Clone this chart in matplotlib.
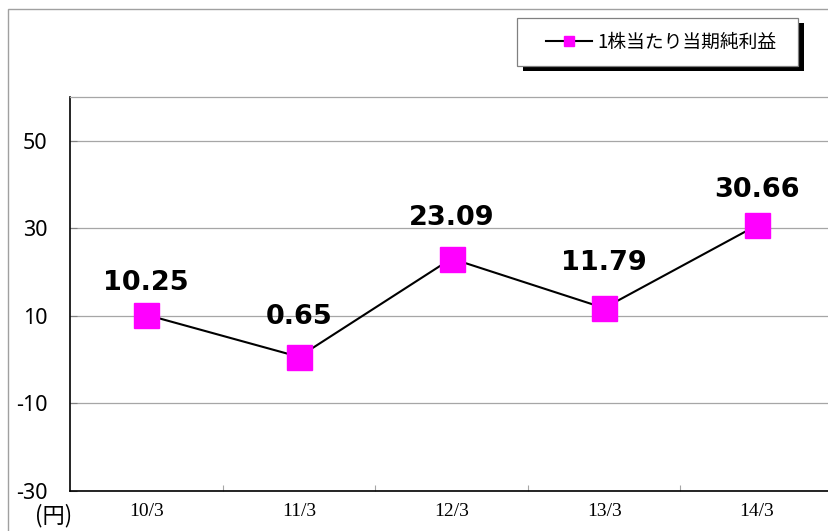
import matplotlib as mpl
import matplotlib.pyplot as plt
from matplotlib.lines import Line2D
from matplotlib.patches import Rectangle

# ---------------------------------------------------------------------------
# data
# ---------------------------------------------------------------------------
periods = ["10/3", "11/3", "12/3", "13/3", "14/3"]
eps = [10.25, 0.65, 23.09, 11.79, 30.66]
series_name = "1株当たり当期純利益"
y_ticks = [-30, -10, 10, 30, 50]
unit_label = "(円)"

# ---------------------------------------------------------------------------
# style
# ---------------------------------------------------------------------------
W, H = 829, 531
MAGENTA = "#FF00FF"
GRID = "#A6A6A6"
FRAME = "#A0A0A0"
# label offsets above each marker (points)
LABEL_DY = [23.0, 28.8, 29.2, 32.4, 25.6]

mpl.rcParams.update({
    "font.family": ["Noto Sans", "Noto Sans CJK JP"],
    "font.size": 12,
    "axes.unicode_minus": False,
})


def fx(x):
    return x / W


def fy(y):
    return 1 - y / H


fig = plt.figure(figsize=(W / 100, H / 100), dpi=100)
fig.patch.set_facecolor("white")

# outer chart frame (only left and top edges visible)
fig.patches.append(Rectangle((fx(8), -0.1), 2, fy(9) + 0.1, fill=False,
                             edgecolor=FRAME, lw=1.0,
                             transform=fig.transFigure, zorder=0))

ax = fig.add_axes([fx(70), 40 / H, 763 / W, 394 / H])

x = list(range(len(periods)))
ax.plot(x, eps, color="black", lw=1.5, marker="s", ms=18,
        mfc=MAGENTA, mec=MAGENTA, zorder=3)

for xi, v, dy in zip(x, eps, LABEL_DY):
    ax.annotate(f"{v:.2f}", (xi, v), xytext=(0, dy), textcoords="offset points",
                ha="center", va="center", fontsize=19.5, fontweight="bold",
                family="DejaVu Sans", zorder=4)

ax.set_xlim(-0.5, len(periods) - 0.5)
ax.set_ylim(-30, 60)
ax.set_yticks(y_ticks)
ax.set_xticks(x)
ax.set_xticklabels(periods, family="Liberation Serif", fontsize=14)
ax.set_xticks([i + 0.5 for i in x[:-1]], minor=True)

ax.tick_params(axis="x", which="major", length=0, pad=9)
ax.tick_params(axis="x", which="minor", direction="in", length=4,
               color=GRID, width=0.8)
ax.tick_params(axis="y", direction="in", length=5, color="#808080",
               width=0.8, pad=16, labelsize=15.5)

ax.yaxis.grid(True, color=GRID, lw=0.9)
ax.set_axisbelow(True)

for side in ("left", "bottom"):
    ax.spines[side].set_color("black")
    ax.spines[side].set_linewidth(1.2)
for side in ("top", "right"):
    ax.spines[side].set_color(GRID)
    ax.spines[side].set_linewidth(0.9)

fig.text(fx(54), fy(516), unit_label, ha="center", va="center",
         fontsize=16, family="Noto Sans CJK JP")

# legend box with hard black drop shadow
fig.patches.append(Rectangle((fx(523), fy(71)), (804 - 523) / W, (71 - 23) / H,
                             facecolor="black", edgecolor="none",
                             transform=fig.transFigure, zorder=1))
fig.patches.append(Rectangle((fx(517), fy(66)), (798 - 517) / W, (66 - 18) / H,
                             facecolor="white", edgecolor="#808080", lw=0.9,
                             transform=fig.transFigure, zorder=2))

handle = Line2D([], [], color="black", lw=1.5, marker="s", ms=6.5,
                mfc=MAGENTA, mec=MAGENTA)
fig.legend([handle], [series_name], loc="center left",
           bbox_to_anchor=(fx(546), fy(42)), frameon=False,
           borderpad=0, borderaxespad=0, handlelength=2.45,
           handletextpad=0.3, prop={"family": "Noto Sans CJK JP", "size": 13.5})

fig.savefig("out.png", dpi=100)
